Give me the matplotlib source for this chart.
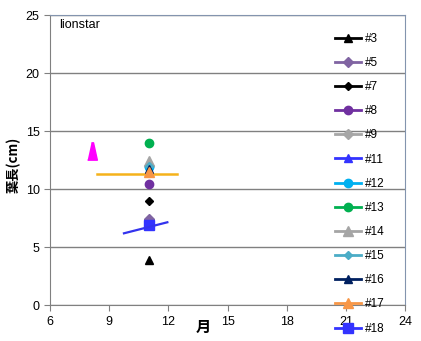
import matplotlib
matplotlib.use('Agg')
import matplotlib.pyplot as plt

plt.rcParams['font.family'] = ['Liberation Sans', 'DejaVu Sans']

# series at month 11
labels = ['#3', '#5', '#7', '#8', '#9', '#11', '#12', '#13', '#14', '#15', '#16', '#17', '#18']
months = [11, 11, 11, 11, 11, 11, 11, 11, 11, 11, 11, 11, 11]
lengths = [3.9, 7.4, 9.0, 10.45, 12.0, 7.0, 11.9, 14.0, 12.4, 12.0, 11.7, 11.5, 6.9]
colors = ['#000000', '#8064A2', '#000000', '#7030A0', '#A6A6A6', '#3333FF', '#00B0F0',
          '#00B050', '#A5A5A5', '#4BACC6', '#002060', '#F79646', '#3333FF']
markers = ['^', 'D', 'D', 'o', 'D', '^', 'o', 'o', '^', 'D', '^', '^', 's']
msizes = [6, 5, 4.5, 6, 5, 6, 6, 6, 7, 4, 6, 7, 7]

# extra point (magenta) and trend lines
pink_x = [8.12]
pink_y = [13.25]
trend_orange_x = [8.4, 12.45]
trend_orange_y = [11.3, 11.3]
trend_blue_x = [9.75, 11.95]
trend_blue_y = [6.2, 7.15]

fig = plt.figure(figsize=(4.21, 3.41), dpi=100)
ax = fig.add_axes([50/421, 1-305.3/341, 355/421, 290.3/341])

ax.set_xlim(6, 24)
ax.set_ylim(0, 25)
ax.set_xticks([6, 9, 12, 15, 18, 21, 24])
ax.set_yticks([0, 5, 10, 15, 20, 25])
ax.yaxis.grid(True, color='#808080', lw=1)
ax.set_axisbelow(True)
for s in ['top', 'right']:
    ax.spines[s].set_color('#8394AE')
for s in ['left', 'bottom']:
    ax.spines[s].set_color('#808080')
ax.tick_params(colors='#808080', labelcolor='black', labelsize=9, length=4, direction='out')

ax.plot(trend_orange_x, trend_orange_y, color='#F5B21B', lw=1.8, zorder=2)
ax.plot(trend_blue_x, trend_blue_y, color='#3333EE', lw=1.6, zorder=4)

tall = [(-0.28, -0.5), (0.28, -0.5), (0.06, 0.5), (-0.06, 0.5)]
ax.plot(pink_x, pink_y, linestyle='none', marker=tall, markersize=12.5,
        color='#FF00FF', zorder=3)

handles = []
for i in range(len(labels)):
    h, = ax.plot([months[i]], [lengths[i]], '-', color=colors[i], marker=markers[i],
                 markersize=msizes[i], lw=2, label=labels[i], zorder=3)
    handles.append(h)

fig.legend(handles=handles, loc='upper left', bbox_to_anchor=(330/421, 1-28/341),
           frameon=False, fontsize=8.5, handlelength=2.2, handletextpad=0.35,
           labelspacing=1.03, borderaxespad=0)

ax.text(0.025, 0.985, 'lionstar', transform=ax.transAxes, fontsize=9, va='top', ha='left')

fig.text(203/421, 1-327/341, '月', family=['Noto Sans CJK JP'], fontsize=11,
         fontweight='bold', ha='center', va='center')
fig.text(14/421, 1-165/341, '葉長(cm)', family=['Noto Sans CJK JP'], fontsize=9.5,
         fontweight='bold', rotation=90, ha='center', va='center')

plt.savefig('out.png', dpi=100)
